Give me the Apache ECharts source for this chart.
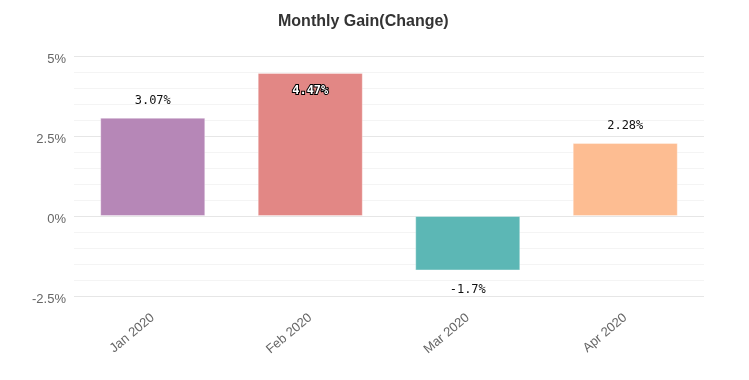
<!DOCTYPE html>
<html><head><meta charset="utf-8">
<script src="https://cdn.jsdelivr.net/npm/echarts@6/dist/echarts.min.js"></script>
<style>html,body{margin:0;padding:0;background:#fff}#c{width:749px;height:380px}</style>
</head><body><div id="c"></div>
<script>
var categories = ['Jan 2020', 'Feb 2020', 'Mar 2020', 'Apr 2020'];
var values = [3.07, 4.47, -1.7, 2.28];
var colors = ['#b687b7', '#e28785', '#5cb7b5', '#fdbd92'];
var yTicks = [-2.5, 0, 2.5, 5];

var data = values.map(function (v, i) {
  var item = { value: v, itemStyle: { color: colors[i] } };
  if (i === 1) {
    item.label = { position: 'insideTop', distance: 12, color: '#fff', textBorderColor: '#000', textBorderWidth: 2, fontWeight: 'bold' };
  } else if (v < 0) {
    item.label = { position: 'bottom', distance: 13 };
  }
  return item;
});

var chart = echarts.init(document.getElementById('c'));
chart.setOption({
  animation: false,
  title: { text: 'Monthly Gain(Change)', left: 273, top: 9,
    textStyle: { fontFamily: 'Liberation Sans, Arial', fontSize: 16, fontWeight: 'bold', color: '#333' } },
  grid: { left: 74, right: 45, top: 56, bottom: 84 },
  xAxis: {
    type: 'category', data: categories,
    axisLine: { show: false }, axisTick: { show: false },
    axisLabel: { rotate: 40, color: '#666', fontSize: 13, fontFamily: 'Liberation Sans, Arial', margin: 20 }
  },
  yAxis: {
    type: 'value', min: yTicks[0], max: yTicks[yTicks.length - 1], interval: 2.5,
    axisLabel: {
      formatter: function (v) { return '{a|' + v + '%}'; }, margin: 8,
      rich: { a: { color: '#666', fontSize: 13, fontFamily: 'Liberation Sans, Arial', padding: [7, 0, 0, 0] } }
    },
    splitLine: { lineStyle: { color: '#e6e6e6', width: 1 } },
    minorTick: { show: false, splitNumber: 5 },
    minorSplitLine: { show: true, lineStyle: { color: '#f4f4f4', width: 1 } }
  },
  series: [{
    type: 'bar', data: data, barWidth: '66.7%',
    itemStyle: { borderColor: 'rgba(255,255,255,0.35)', borderWidth: 1 },
    label: { show: true, position: 'top', distance: 11, color: '#111', fontSize: 12,
      fontFamily: 'DejaVu Sans Mono, monospace', formatter: function (p) { return p.value + '%'; } }
  }]
});
</script></body></html>
